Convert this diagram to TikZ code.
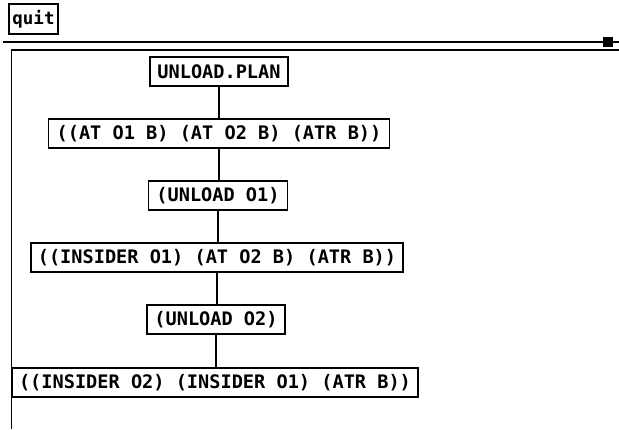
\documentclass[tikz,border=0pt]{standalone}
\usepackage{fontspec}
\setmonofont{DejaVu Sans Mono}
\begin{document}
\begin{tikzpicture}[x=1pt,y=-1pt,
  box/.style={draw=black,line width=1.4pt,inner sep=0pt,minimum height=29pt,
    font=\fontsize{18.6}{20}\selectfont\ttfamily\bfseries,text=black},
  link/.style={draw=black,line width=1.4pt}]
\useasboundingbox[fill=white] (0,0) rectangle (619,429);
% top bar
\node[box,minimum width=49pt,minimum height=30pt,font=\fontsize{17.5}{20}\selectfont\ttfamily\bfseries] (quit) at (33.5,19) {quit};
\coordinate (barL) at (3,42);
\coordinate (barR) at (619,42);
\draw[line width=2pt] (barL) -- (barR);
\node[fill=black,inner sep=0pt,minimum width=10pt,minimum height=10pt] (knob) at (607.5,42) {};
% panel frame
\coordinate (frTR) at (619,50);
\coordinate (frTL) at (11.5,50);
\coordinate (frBL) at (11.5,429);
\draw[line width=1.6pt] (frTR) -- (frTL) -- (frBL);
% nodes
\node[box,minimum width=138pt] (n1) at (219,71.5) {UNLOAD.PLAN};
\node[box,minimum width=341pt] (n2) at (219,133.5) {((AT O1 B) (AT O2 B) (ATR B))};
\node[box,minimum width=139pt] (n3) at (218,195.5) {(UNLOAD O1)};
\node[box,minimum width=372pt] (n4) at (217,257.5) {((INSIDER O1) (AT O2 B) (ATR B))};
\node[box,minimum width=138pt] (n5) at (216,319.5) {(UNLOAD O2)};
\node[box,minimum width=406pt] (n6) at (215,382.5) {((INSIDER O2) (INSIDER O1) (ATR B))};
% connectors
\draw[link] (n1.south) -- (n1.south |- n2.north);
\draw[link] (n2.south) -- (n2.south |- n3.north);
\draw[link] (n3.south) -- (n3.south |- n4.north);
\draw[link] (n4.south) -- (n4.south |- n5.north);
\draw[link] (n5.south) -- (n5.south |- n6.north);
\end{tikzpicture}
\end{document}
